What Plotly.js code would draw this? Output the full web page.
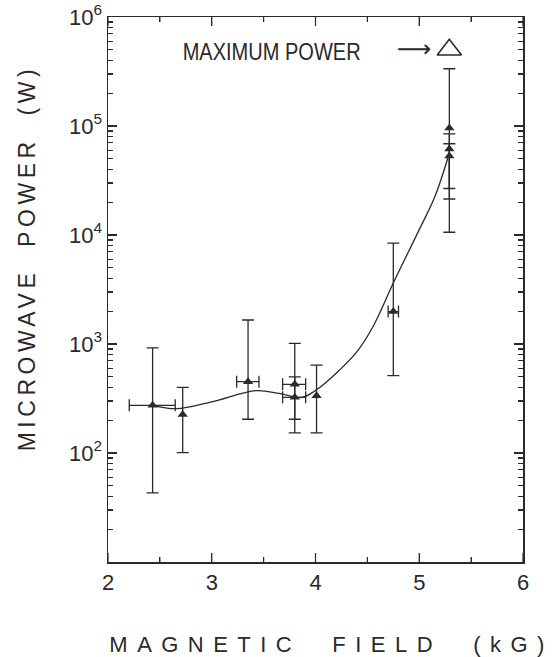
<!DOCTYPE html>
<html><head><meta charset="utf-8">
<script src="https://cdn.plot.ly/plotly-3.0.1.min.js"></script>
<style>html,body{margin:0;padding:0;background:#fff;}#chart{width:559px;height:657px;}</style>
</head><body><div id="chart"></div>
<script>
// Measured points
var fieldKG   = [2.43, 2.72, 3.35, 3.80, 3.80, 4.01, 4.75, 5.29, 5.29, 5.29];
var powerW    = [274, 226, 451, 427, 324, 335, 1983, 95700, 61400, 53200];
var powerHigh = [920, 400, 1660, 1014, 500, 640, 8410, 335000, 84700, 68700];
var powerLow  = [43, 101, 204, 204, 153, 153, 512, 10600, 26700, 21400];
// Horizontal error bars (only some points)
var xErrField = [2.43, 3.35, 3.80, 3.80, 4.75];
var xErrPower = [274, 451, 427, 324, 1983];
var xErrLeft  = [2.205, 3.24, 3.683, 3.683, 4.70];
var xErrRight = [2.648, 3.455, 3.905, 3.905, 4.80];
// Fitted curve
var curveField = [2.43, 2.66, 3.00, 3.43, 3.65, 3.87, 4.01, 4.23, 4.40, 4.56, 4.75, 5.00, 5.15, 5.28];
var curvePower = [274, 255, 295, 373, 352, 324, 380, 575, 850, 1480, 3630, 11200, 22400, 52500];
// Maximum power marker
var maxField = [5.29];
var maxPower = [500000];
var maxLabel = "MAXIMUM POWER";
// Axis ticks and titles
var yTickVals = [100, 1000, 10000, 100000, 1000000];
var yTickText = ["10<sup>2</sup>", "10<sup>3</sup>", "10<sup>4</sup>", "10<sup>5</sup>", "10<sup>6</sup>"];
var xMajorTicks = [2, 3, 4, 5, 6];
var xMinorTicks = [2.5, 3.5, 4.5, 5.5];
var xTitle = "MAGNETIC  FIELD  (kG)";
var yTitle = "MICROWAVE  POWER  (W)";

var ink = "#2a2a2a";
var fam = "Liberation Sans, Arial, sans-serif";
function diff(a, b, sign){ return a.map(function(v,i){ return sign*(v - b[i]); }); }

var traces = [
  { x: curveField, y: curvePower, mode: "lines", line: {color: ink, width: 1.3, shape: "spline", smoothing: 1}, hoverinfo: "skip", showlegend: false },
  { x: xErrField, y: xErrPower, mode: "markers", marker: {opacity: 0, size: 1},
    error_x: {type: "data", symmetric: false, array: diff(xErrRight, xErrField, 1), arrayminus: diff(xErrLeft, xErrField, -1), color: ink, thickness: 1.3, width: 6},
    showlegend: false },
  { x: fieldKG, y: powerW, mode: "markers", marker: {symbol: "triangle-up", size: 9, color: ink},
    error_y: {type: "data", symmetric: false, array: diff(powerHigh, powerW, 1), arrayminus: diff(powerLow, powerW, -1), color: ink, thickness: 1.3, width: 6},
    showlegend: false },
  { x: maxField, y: maxPower, mode: "markers", marker: {symbol: "triangle-up-open", size: 21, color: ink, line: {width: 1.6, color: ink}}, showlegend: false },
  { x: [2], y: [1000], yaxis: "y2", mode: "markers", marker: {opacity: 0, size: 1}, hoverinfo: "skip", showlegend: false }
];

var tickCommon = {ticks: "inside", ticklen: 9, tickwidth: 1.2, tickcolor: ink, showline: true, linecolor: ink, linewidth: 1.5, showgrid: false, zeroline: false};
var xMinor = {dtick: 0.5, tick0: 2, ticks: "inside", ticklen: 5, tickwidth: 1.1, tickcolor: ink, showgrid: false};
var yMinor = {dtick: "D1", ticks: "inside", ticklen: 5, tickwidth: 1.1, tickcolor: ink, showgrid: false};

// Tick marks along the bottom and top frame, placed on the x scale (pixel-sized lengths)
var tickShapes = [];
function addTicks(vals, len){
  vals.forEach(function(v){
    tickShapes.push({type: "line", layer: "above", xref: "x", x0: v, x1: v, yref: "paper", ysizemode: "pixel", yanchor: 0, y0: 0, y1: len, line: {color: ink, width: 1.2}});
    tickShapes.push({type: "line", layer: "above", xref: "x", x0: v, x1: v, yref: "paper", ysizemode: "pixel", yanchor: 1, y0: 0, y1: -len, line: {color: ink, width: 1.2}});
  });
}
addTicks(xMajorTicks, 9);
addTicks(xMinorTicks, 5);

var layout = {
  width: 559, height: 657,
  margin: {l: 108, r: 36, t: 17, b: 95},
  paper_bgcolor: "#fff", plot_bgcolor: "#fff",
  xaxis: Object.assign({}, tickCommon, {range: [2, 6], tickmode: "linear", tick0: 2, dtick: 1, tickfont: {family: fam, size: 22, color: ink}, mirror: "ticks", minor: xMinor}),
  yaxis: Object.assign({}, tickCommon, {type: "log", range: [1, 6], tickvals: yTickVals, ticktext: yTickText, tickfont: {family: fam, size: 22, color: ink}, minor: yMinor}),
  yaxis2: Object.assign({}, tickCommon, {type: "log", range: [1, 6], overlaying: "y", anchor: "x", side: "right", tickvals: yTickVals, showticklabels: false, minor: yMinor}),
  shapes: tickShapes,
  annotations: [
    {x: 271, y: 52, text: maxLabel, showarrow: false,
     font: {family: "Liberation Sans Narrow, Arial Narrow, Liberation Sans, sans-serif", size: 24, color: ink}},
    {x: 414, y: 49, text: "\u27F6", showarrow: false,
     font: {family: "DejaVu Sans, sans-serif", size: 24, color: ink}},
    {x: 327, y: 644, text: xTitle, showarrow: false, font: {family: fam, size: 22, color: ink}},
    {x: 27, y: 261, text: yTitle, showarrow: false, textangle: -90, font: {family: fam, size: 23, color: ink}}
  ]
};
// convert pixel positions of the free texts to paper fractions
var pw = 559 - 108 - 36, ph = 657 - 17 - 95;
layout.annotations.forEach(function(a){
  a.xref = "paper"; a.yref = "paper";
  a.x = (a.x - 108) / pw; a.y = (657 - 95 - a.y) / ph;
  a.xanchor = "center"; a.yanchor = "middle";
});
var stretch = {};
stretch[maxLabel] = [178, "spacingAndGlyphs"];
stretch[xTitle] = [435, "spacing"];
stretch[yTitle] = [382, "spacing"];
Plotly.newPlot("chart", traces, layout, {displayModeBar: false, staticPlot: true}).then(function(gd){
  gd.querySelectorAll("text.annotation-text").forEach(function(t){
    var s = stretch[t.textContent.replace(/\u00a0/g, " ")];
    if (s) { t.setAttribute("textLength", s[0]); t.setAttribute("lengthAdjust", s[1]); }
  });
});
</script>
</body></html>
